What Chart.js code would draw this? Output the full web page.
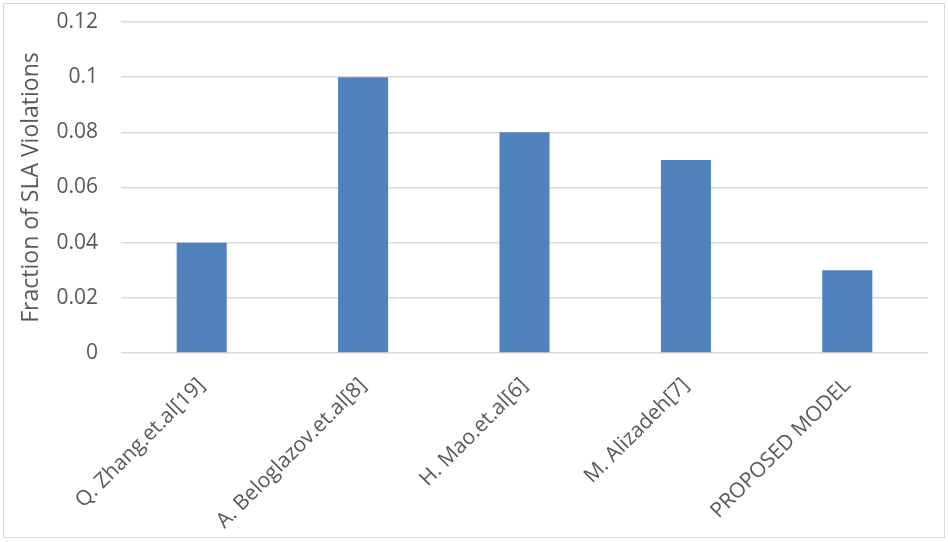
<!DOCTYPE html>
<html>
<head>
<meta charset="utf-8">
<script src="https://cdn.jsdelivr.net/npm/chart.js@4"></script>
<style>
  html, body { margin: 0; padding: 0; background: #ffffff; }
  #frame { position: absolute; left: 3px; top: 3px; width: 940px; height: 533px; border: 1px solid #d9d9d9; }
  canvas { display: block; }
</style>
</head>
<body>
<div id="frame"><canvas id="c" width="940" height="533"></canvas></div>
<script>
const categories = ["Q. Zhang.et.al[19]", "A. Beloglazov.et.al[8]", "H. Mao.et.al[6]", "M. Alizadeh[7]", "PROPOSED MODEL"];
const slaViolations = [0.04, 0.10, 0.08, 0.07, 0.03];
const yTickValues = [0, 0.02, 0.04, 0.06, 0.08, 0.1, 0.12];
const yTickLabels = ["0", "0.02", "0.04", "0.06", "0.08", "0.1", "0.12"];
const yTitle = "Fraction of SLA Violations";

const textColor = "#595959";
const fontFamily = "'Open Sans', sans-serif";

new Chart(document.getElementById("c"), {
  type: "bar",
  data: {
    labels: categories,
    datasets: [{
      label: yTitle,
      data: slaViolations,
      backgroundColor: "#4f81bd",
      borderWidth: 0,
      barPercentage: 0.31,
      categoryPercentage: 1.0
    }]
  },
  options: {
    responsive: false,
    animation: false,
    devicePixelRatio: 1,
    layout: { padding: { top: 18, right: 16, bottom: 0, left: 0 } },
    plugins: { legend: { display: false }, tooltip: { enabled: false } },
    scales: {
      x: {
        grid: { display: false },
        border: { display: false },
        ticks: {
          color: textColor,
          font: { family: fontFamily, size: 21 },
          minRotation: 45,
          maxRotation: 45,
          padding: 12,
          autoSkip: false
        },
        afterFit(scale) { scale.height = 184; scale.paddingLeft = 0; scale.paddingRight = 0; }
      },
      y: {
        min: 0,
        max: 0.12,
        afterBuildTicks(scale) { scale.ticks = yTickValues.map(v => ({ value: v })); },
        grid: { color: "#d9d9d9", lineWidth: 1.5, drawTicks: false },
        border: { display: false },
        ticks: {
          color: textColor,
          font: { family: fontFamily, size: 21 },
          padding: 23,
          callback(value) {
            const i = yTickValues.findIndex(v => Math.abs(v - value) < 1e-9);
            return i >= 0 ? yTickLabels[i] : "";
          }
        },
        title: {
          display: true,
          text: yTitle,
          color: textColor,
          font: { family: fontFamily, size: 23 },
          padding: { top: 14, bottom: 0 }
        },
        afterFit(scale) { scale.width = 117; scale.paddingTop = 0; scale.paddingBottom = 0; }
      }
    }
  }
});
</script>
</body>
</html>
